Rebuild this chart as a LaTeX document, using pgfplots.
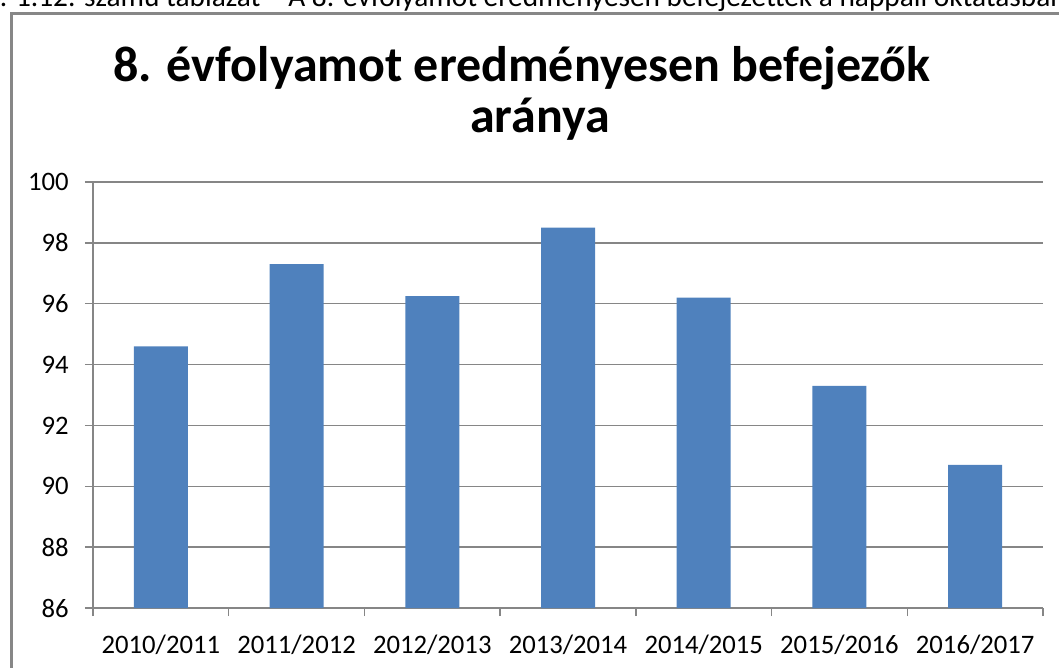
\documentclass[border=0pt]{standalone}
\usepackage{fontspec}
\setmainfont{Carlito}
\usepackage{pgfplots}
\pgfplotsset{compat=1.18}
\definecolor{barblue}{HTML}{4F81BD}
\definecolor{gridgray}{HTML}{868686}
\definecolor{framegray}{HTML}{878787}
\begin{document}
\begin{tikzpicture}[x=0.75pt,y=0.75pt]
\useasboundingbox (0,0) rectangle (1059,667);
\begin{scope}
\clip (0,0) rectangle (1059,667);
\node[anchor=base east, font=\fontsize{22}{26}\selectfont, inner sep=0pt] at (1066,660) {4. 1.12. számú táblázat – A 8. évfolyamot eredményesen befejezettek a nappali oktatásban};
\draw[framegray, line width=2.25pt] (11.5,-5) -- (11.5,653.5) -- (1070,653.5);
\end{scope}
\node[font=\bfseries\fontsize{37.5}{45}\selectfont, anchor=base, inner sep=0pt] at (522,585) {8. évfolyamot eredményesen befejezők};
\node[font=\bfseries\fontsize{37.5}{45}\selectfont, anchor=base, inner sep=0pt] at (540,534) {aránya};
\begin{axis}[
  at={(69.75pt,44.25pt)}, anchor=south west,
  scale only axis, width=712.5pt, height=319.5pt,
  xmin=0.5, xmax=7.5, ymin=86, ymax=100,
  ytick={86,88,...,100},
  xtick={0.5,1.5,...,7.5}, xticklabels={,,,,,,,,},
  extra x ticks={1,2,...,7},
  extra x tick labels={2010/2011,2011/2012,2012/2013,2013/2014,2014/2015,2015/2016,2016/2017},
  extra x tick style={major tick length=0pt, xticklabel style={anchor=base, yshift=-33.75pt}},
  axis lines*=left,
  axis line style={gridgray, line width=1.1pt},
  ymajorgrids, major grid style={gridgray, line width=1.1pt},
  tick style={gridgray, line width=1.1pt},
  tick align=outside, major tick length=6pt,
  ticklabel style={font=\fontsize{20}{24}\selectfont, text=black},
  yticklabel style={anchor=east, inner sep=0pt, xshift=-12pt},
  /pgf/number format/assume math mode=true,
  ybar, bar width=40.5pt,
  ]
\addplot[fill=barblue, draw=none] coordinates {(1,94.6) (2,97.3) (3,96.25) (4,98.5) (5,96.2) (6,93.3) (7,90.7)};
\end{axis}
\end{tikzpicture}
\end{document}
